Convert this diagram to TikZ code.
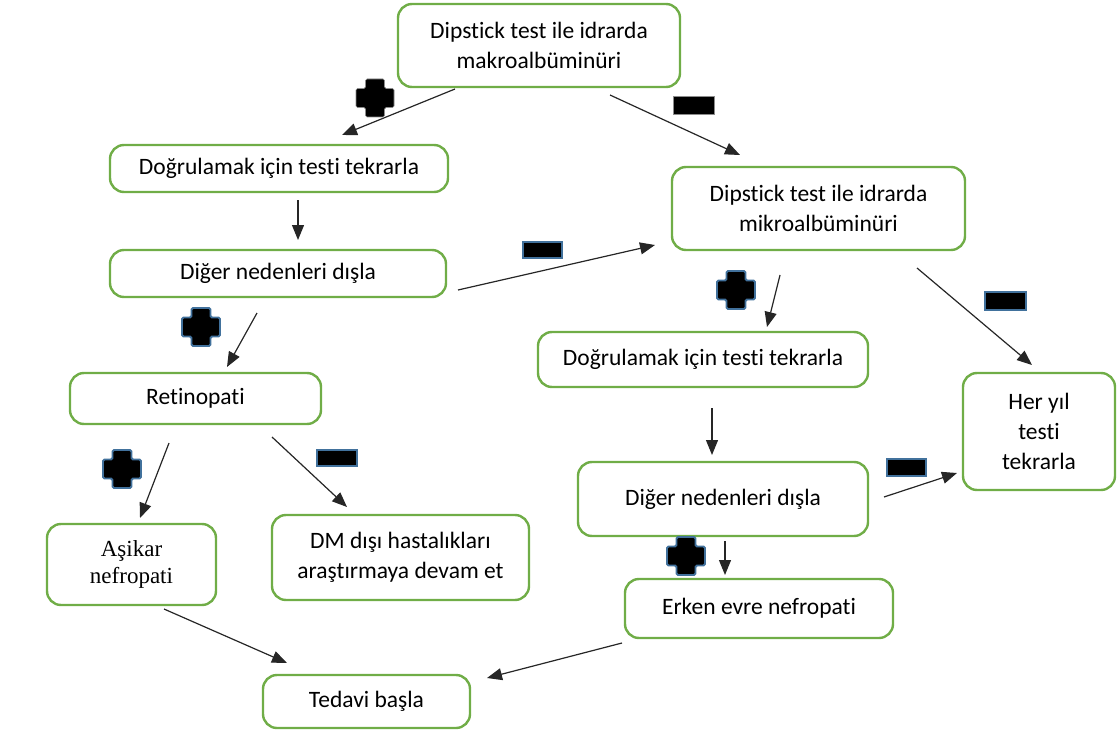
\documentclass[tikz,border=0pt]{standalone}
\usepackage{fontspec}
\setmainfont[Ligatures=NoCommon]{Carlito}
\newfontfamily\timesf{Liberation Serif}
\usetikzlibrary{arrows.meta}
\definecolor{boxgreen}{RGB}{112,173,71}
\definecolor{signblue}{RGB}{65,113,156}
\begin{document}
\begin{tikzpicture}[x=1pt,y=-1pt,
  box/.style={draw=boxgreen, line width=2.4pt, rounded corners=14pt, align=center,
    inner sep=0pt, font=\fontsize{23.5}{30}\selectfont},
  link/.style={draw=black!85, line width=1.2pt, -{Triangle[length=15pt,width=12pt]}},
  plussign/.pic={\path[pic actions, rounded corners=1.5pt]
    (-9.5,-19) -- (9.5,-19) -- (9.5,-9.5) -- (19,-9.5) -- (19,9.5) -- (9.5,9.5) --
    (9.5,19) -- (-9.5,19) -- (-9.5,9.5) -- (-19,9.5) -- (-19,-9.5) -- (-9.5,-9.5) -- cycle;},
  bluesign/.style={draw=signblue, line width=1.8pt, fill=black},
  greysign/.style={draw=black!45, line width=0.6pt, fill=black}]
\useasboundingbox (0,0) rectangle (1119,733);

% boxes
\node[box, minimum width=282pt, minimum height=83pt] (top) at (539,45.5) {Dipstick test ile idrarda\\makroalbüminüri};
\node[box, minimum width=338pt, minimum height=47pt] (dogL) at (279,168.5) {Doğrulamak için testi tekrarla};
\node[box, minimum width=336pt, minimum height=47pt] (digL) at (278,273.5) {Diğer nedenleri dışla};
\node[box, minimum width=251pt, minimum height=51pt] (ret) at (195.5,398.5) {Retinopati};
\node[box, minimum width=169pt, minimum height=81pt, font=\timesf\fontsize{23}{27}\selectfont] (asi) at (131.5,564.5) {Aşikar\\nefropati};
\node[box, minimum width=257pt, minimum height=85pt] (dm) at (400.5,557.5) {DM dışı hastalıkları\\araştırmaya devam et};
\node[box, minimum width=207pt, minimum height=53pt] (ted) at (366.5,701.5) {Tedavi başla};
\node[box, minimum width=293pt, minimum height=83pt] (mik) at (818.5,208.5) {Dipstick test ile idrarda\\mikroalbüminüri};
\node[box, minimum width=330pt, minimum height=55pt] (dogR) at (703,359.5) {Doğrulamak için testi tekrarla};
\node[box, minimum width=152pt, minimum height=117pt] (her) at (1039,431.5) {Her yıl\\testi\\tekrarla};
\node[box, minimum width=290pt, minimum height=74pt] (digR) at (723,499) {Diğer nedenleri dışla};
\node[box, minimum width=268pt, minimum height=59pt] (erk) at (759,608.5) {Erken evre nefropati};

% arrows (free-floating, as in the reference)
\foreach \n/\sx/\sy/\ex/\ey in {
  1/455/89/342/135, 2/610/95/740/155, 3/298/200/298/240, 4/458/290/655/245,
  5/257/313/227/367, 6/780/275/767/327, 7/917/268/1032/365, 8/169/443/140/518,
  9/272/437/347/507, 10/712/408/712/455, 11/884/497/957/473, 12/725/541/725/575,
  13/164/609/287/663, 14/622/643/487/678}{
  \coordinate (s\n) at (\sx,\sy);
  \coordinate (e\n) at (\ex,\ey);
  \draw[link] (s\n) -- (e\n);
}

% plus signs
\pic[greysign] (p1) at (375,98) {plussign};
\pic[bluesign] (p2) at (201,327) {plussign};
\pic[bluesign] (p3) at (736,290) {plussign};
\pic[bluesign] (p4) at (122,469) {plussign};
\pic[bluesign] (p5) at (686,556) {plussign};

% minus signs
\draw[greysign] (673,96) rectangle (714,114);
\draw[bluesign] (523,242) rectangle (562,258);
\draw[bluesign] (985,292) rectangle (1026,310);
\draw[bluesign] (317,450) rectangle (357,466);
\draw[bluesign] (887,459) rectangle (926,476);
\end{tikzpicture}
\end{document}
